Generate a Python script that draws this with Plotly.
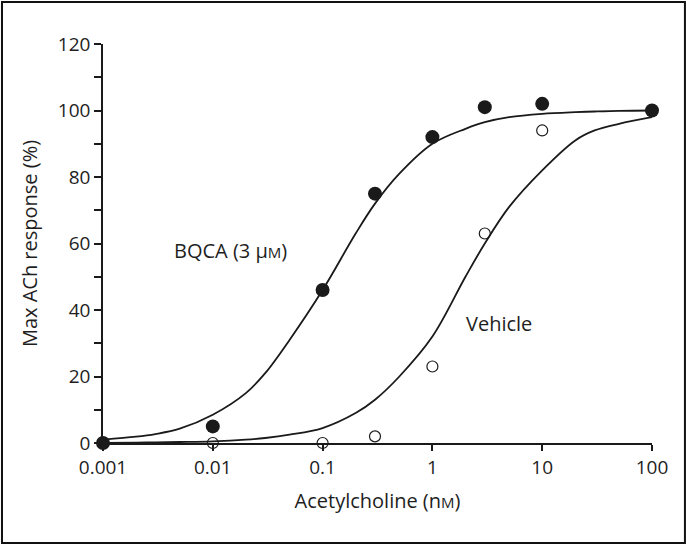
import plotly.graph_objects as go

# ================== data ================== #

conc = [0.001, 0.01, 0.1, 0.3, 1, 3, 10, 100]
bqca_resp = [0, 5, 46, 75, 92, 101, 102, 100]
vehicle_resp = [0, 0, 0, 2, 23, 63, 94, 100]

# fitted curves
curve_x = [0.001, 0.002, 0.003, 0.005, 0.01, 0.02, 0.03, 0.05, 0.1, 0.2, 0.3, 0.5,
           1, 2, 3, 5, 10, 20, 30, 50, 100]
bqca_fit = [1, 1.9, 2.7, 4.3, 8.5, 15, 21, 31, 46, 63, 72, 81,
            90, 94.5, 96.5, 98, 99, 99.5, 99.7, 99.9, 100]
vehicle_fit = [0, 0.1, 0.2, 0.3, 0.5, 1, 1.5, 2.5, 4.5, 9, 13, 20,
               32, 50, 60, 71, 82, 91, 94, 96, 98]

tick_vals = [0.001, 0.01, 0.1, 1, 10, 100]
tick_text = ["0.001", "0.01", "0.1", "1", "10", "100"]

FONT = "Open Sans"
TXT = "#1e1e1e"
INK = "#1a1a1a"

fig = go.Figure()

# ---------------- curves ----------------
fig.add_trace(go.Scatter(x=curve_x, y=bqca_fit, mode="lines",
                         line=dict(color=INK, width=1.8, shape="spline"),
                         showlegend=False, hoverinfo="skip"))
fig.add_trace(go.Scatter(x=curve_x, y=vehicle_fit, mode="lines",
                         line=dict(color=INK, width=1.8, shape="spline"),
                         showlegend=False, hoverinfo="skip"))

# ---------------- points ----------------
fig.add_trace(go.Scatter(x=conc, y=vehicle_resp, mode="markers", cliponaxis=False,
                         marker=dict(symbol="circle-open", size=11, color=INK,
                                     line=dict(width=1.2, color=INK)),
                         name="Vehicle", showlegend=False))
fig.add_trace(go.Scatter(x=conc, y=bqca_resp, mode="markers", cliponaxis=False,
                         marker=dict(symbol="circle", size=14, color=INK),
                         name="BQCA", showlegend=False))

# ---------------- labels ----------------
fig.add_annotation(x=-2.37, y=58, xref="x", yref="y", xanchor="left", yanchor="middle",
                   text="BQCA (3 μ<span style='font-size:15px'>M</span>)",
                   showarrow=False, font=dict(family=FONT, size=20, color=TXT))
fig.add_annotation(x=0.29, y=36, xref="x", yref="y", xanchor="left", yanchor="middle",
                   text="Vehicle", showarrow=False,
                   font=dict(family=FONT, size=20, color=TXT))

# frame round the whole figure
fig.add_shape(type="rect", xref="paper", yref="paper",
              x0=-0.184, x1=1.060, y0=-0.2506, y1=1.105,
              line=dict(color="#111111", width=2))

fig.update_layout(
    width=687, height=545,
    template="none",
    paper_bgcolor="white", plot_bgcolor="white",
    margin=dict(l=103, r=35, t=44, b=102),
    font=dict(family=FONT, size=18, color=TXT),
    xaxis=dict(type="log", range=[-3, 2],
               tickvals=tick_vals, ticktext=tick_text,
               ticks="outside", ticklen=6, tickwidth=1.5, tickcolor=INK,
               showline=True, linecolor=INK, linewidth=1.5,
               showgrid=False, zeroline=False,
               tickfont=dict(family=FONT, size=19, color=TXT),
               title=dict(text="Acetylcholine (n<span style='font-size:15px'>M</span>)",
                          font=dict(family=FONT, size=20, color=TXT), standoff=15)),
    yaxis=dict(range=[0, 120], dtick=20,
               ticks="outside", ticklen=7, tickwidth=1.5, tickcolor=INK,
               minor=dict(dtick=10, ticks="outside", ticklen=7, tickwidth=1.5, tickcolor=INK),
               showline=True, linecolor=INK, linewidth=1.5,
               showgrid=False, zeroline=False,
               tickfont=dict(family=FONT, size=19, color=TXT),
               title=dict(text="Max ACh response (%)",
                          font=dict(family=FONT, size=20, color=TXT), standoff=15)),
)

fig.write_html("out.html", config={"displayModeBar": False},
               post_script="document.body.style.margin='0';document.body.style.overflow='hidden';")
